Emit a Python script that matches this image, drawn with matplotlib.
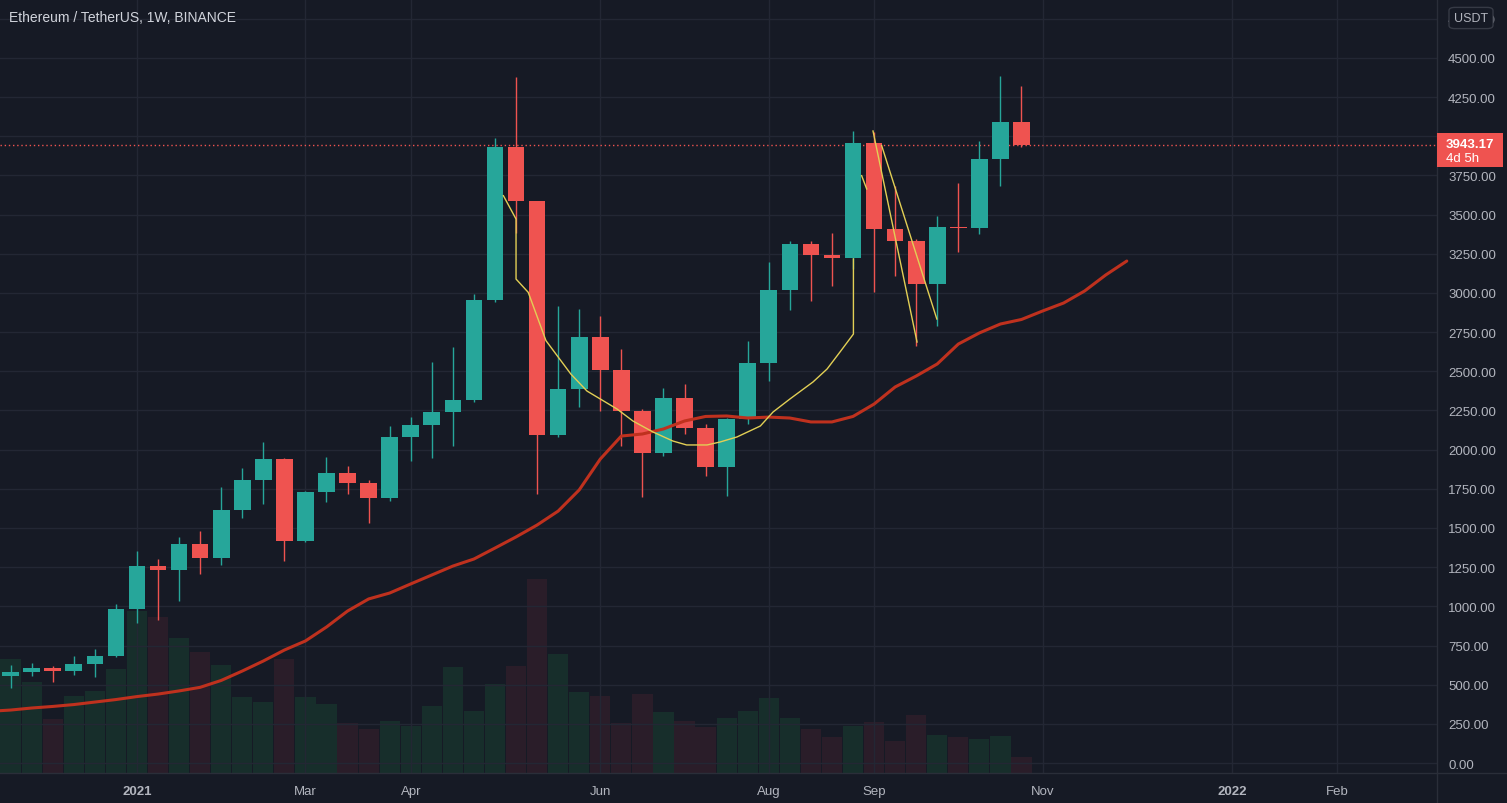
import matplotlib
matplotlib.use("Agg")
import matplotlib.pyplot as plt
from matplotlib.patches import FancyBboxPatch, Rectangle
from matplotlib.lines import Line2D

# weekly ETH/USDT candles, week of 2020-11-23 .. 2021-10-25 (index 0..48)
opens = [557, 579, 606, 588, 634, 685, 980, 1258, 1233, 1396, 1310, 1612, 1804, 1940, 1419, 1728,
         1849, 1785, 1690, 2079, 2155, 2240, 2320, 2953, 3934, 3587, 2094, 2388, 2717, 2511,
         2246, 1979, 2330, 2140, 1891, 2196, 2555, 3017, 3313, 3240, 3224, 3957, 3406, 3329,
         3057, 3423, 3416, 3853, 4093]
highs = [625, 636, 620, 681, 728, 1015, 1351, 1302, 1441, 1483, 1760, 1881, 2051, 1945, 1735, 1951,
         1898, 1808, 2153, 2207, 2558, 2653, 2994, 3988, 4376, 3589, 2919, 2898, 2855, 2643,
         2260, 2392, 2419, 2164, 2200, 2696, 3200, 3334, 3334, 3383, 4036, 4030, 3681, 3345,
         3493, 3702, 3972, 4385, 4319]
lows = [479, 557, 519, 562, 547, 675, 894, 913, 1036, 1206, 1264, 1562, 1653, 1291, 1409, 1664,
        1717, 1532, 1674, 1930, 1947, 2025, 2302, 2940, 3380, 1717, 2079, 2270, 2249, 2025,
        1696, 1962, 2100, 1834, 1706, 2164, 2440, 2893, 2951, 3047, 3150, 3004, 3110, 2664,
        2791, 3260, 3377, 3681, 3930]
closes = [579, 606, 588, 634, 685, 980, 1258, 1233, 1396, 1310, 1612, 1804, 1940, 1419, 1728, 1849,
          1785, 1690, 2079, 2155, 2240, 2320, 2953, 3934, 3587, 2094, 2388, 2717, 2511, 2246,
          1979, 2330, 2140, 1891, 2196, 2555, 3017, 3313, 3240, 3224, 3957, 3406, 3329, 3057,
          3423, 3416, 3853, 4093, 3943.17]
volumes = [6.84, 5.46, 3.24, 4.62, 4.92, 6.24, 9.72, 9.36, 8.1, 7.26, 6.48, 4.56, 4.26, 6.84,
           4.56, 4.14, 3.0, 2.64, 3.12, 2.82, 4.02, 6.36, 3.72, 5.34, 6.42, 11.64, 7.14, 4.86,
           4.62, 3.0, 4.74, 3.66, 3.12, 2.76, 3.3, 3.72, 4.5, 3.3, 2.64, 2.16, 2.82, 3.06, 1.92,
           3.48, 2.28, 2.16, 2.04, 2.22, 0.96]

# moving average line (offset forward, runs past the last candle)
ma_x = [-0.5] + list(range(0, 54))
ma_y = [334, 338, 351, 361, 373, 389, 405, 424, 440, 460, 483, 527, 587, 651, 721, 779, 868,
        970, 1047, 1085, 1143, 1200, 1257, 1302, 1372, 1443, 1519, 1608, 1743, 1940, 2087,
        2100, 2132, 2183, 2212, 2215, 2202, 2208, 2202, 2177, 2177, 2212, 2291, 2400, 2470,
        2547, 2674, 2745, 2802, 2831, 2885, 2936, 3013, 3115, 3204]

# hand drawn yellow path
path_x = [23.4, 24.0, 24.0, 24.0, 24.58, 25.42, 26.6, 27.37, 28.79, 29.55, 30.5, 31.45, 32.1,
          33.07, 33.69, 34.49, 35.6, 36.2, 37.0, 38.1, 38.77, 39.38, 40.02, 40.02]
path_y = [3621, 3472, 3345, 3089, 3004, 2696, 2483, 2374, 2260, 2183, 2113, 2055, 2030, 2030,
          2049, 2081, 2151, 2240, 2323, 2432, 2515, 2623, 2738, 3217]
seg_a_x = [40.95, 43.04]
seg_a_y = [4034, 2687]
seg_b_x = [41.36, 43.98]
seg_b_y = [3941, 2834]
seg_c_x = [40.41, 40.65]
seg_c_y = [3749, 3664]

month_pos = [6, 14, 19, 28, 36, 41, 49, 58, 63]
month_lbl = ["2021", "Mar", "Apr", "Jun", "Aug", "Sep", "Nov", "2022", "Feb"]
price_ticks = list(range(0, 4751, 250))
last_price = 3943.17

BG = "#161a25"
UP = "#26a69a"
DOWN = "#ef5350"
GRID = "#232734"
TXT = "#b2b5be"
plt.rcParams["font.family"] = ["Liberation Sans", "DejaVu Sans"]

W, H = 1507, 804
fig = plt.figure(figsize=(W / 100, H / 100), dpi=100, facecolor=BG)
rect = [0, 30 / H, 1437 / W, 774 / H]

axv = fig.add_axes(rect, facecolor=BG, zorder=0)
ax = fig.add_axes(rect, zorder=1)
ax.patch.set_alpha(0)

xlim = (-0.503, 67.73)
for a in (axv, ax):
    a.set_xlim(*xlim)
    for s in a.spines.values():
        s.set_visible(False)

# volume
vcol = ["#172e2b" if c >= o else "#2a1d29" for o, c in zip(opens, closes)]
axv.bar(range(len(volumes)), volumes, width=0.96, color=vcol, linewidth=0)
axv.set_ylim(0, max(volumes) * 774 / 194)
axv.set_xticks([])
axv.set_yticks([])

# price pane
ax.set_ylim(-63.8, 4876.5)
ax.set_yticks(price_ticks)
ax.set_yticklabels([f"{v:.2f}" for v in price_ticks])
ax.yaxis.tick_right()
ax.set_xticks(month_pos)
ax.set_xticklabels(month_lbl)
ax.tick_params(axis="y", length=0, pad=8, labelsize=9.5, labelcolor=TXT)
ax.tick_params(axis="x", length=0, pad=9, labelsize=9.5, labelcolor=TXT)
for lbl in ax.get_xticklabels():
    if lbl.get_text() in ("2021", "2022"):
        lbl.set_fontweight("bold")
ax.grid(True, color=GRID, linewidth=1)
ax.set_axisbelow(True)

idx = list(range(len(opens)))
for i in idx:
    o, h, l, c = opens[i], highs[i], lows[i], closes[i]
    col = UP if c >= o else DOWN
    ax.vlines(i, l, h, color=col, linewidth=1, zorder=3)
    lo, hi = min(o, c), max(o, c)
    ax.bar(i, max(hi - lo, 7), bottom=lo, width=0.79, color=col, linewidth=0, zorder=4)

ax.plot(ma_x, ma_y, color="#bf311e", linewidth=2.2, zorder=5, solid_capstyle="round")
for px, py in [(path_x, path_y), (seg_a_x, seg_a_y), (seg_b_x, seg_b_y), (seg_c_x, seg_c_y)]:
    ax.plot(px, py, color="#e2cf55", linewidth=1, zorder=6)

ax.axhline(last_price, color=DOWN, linewidth=1, linestyle=(0, (1, 2)), zorder=2)

# separators
fig.add_artist(Line2D([1437 / W, 1437 / W], [0, 1], color="#2a2e39", linewidth=1))
fig.add_artist(Line2D([0, 1], [30 / H, 30 / H], color="#2a2e39", linewidth=1))

# last price tag
fig.add_artist(Rectangle((1437 / W, (H - 168) / H), 66 / W, 34 / H, facecolor=DOWN,
                         edgecolor="none", transform=fig.transFigure, zorder=5))
fig.text(1446 / W, (H - 145) / H, f"{last_price:.2f}", color="white", fontsize=9.5,
         fontweight="bold", va="center", ha="left", zorder=6)
fig.text(1446 / W, (H - 159) / H, "4d 5h", color="white", fontsize=9.5,
         va="center", ha="left", zorder=6)

# currency box
fig.add_artist(FancyBboxPatch((1452 / W, (H - 28) / H), 38 / W, 18 / H,
                              boxstyle="round,pad=0.002,rounding_size=0.004",
                              facecolor=BG, edgecolor="#363a45", linewidth=1,
                              transform=fig.transFigure, zorder=5))
fig.text(1471 / W, (H - 18.5) / H, "USDT", color=TXT, fontsize=9, ha="center",
         va="center", zorder=6)

fig.text(9 / W, (H - 18) / H, "Ethereum / TetherUS, 1W, BINANCE", color="#d1d4dc",
         fontsize=10, va="center", ha="left")

fig.savefig("out.png", dpi=100, facecolor=BG)
